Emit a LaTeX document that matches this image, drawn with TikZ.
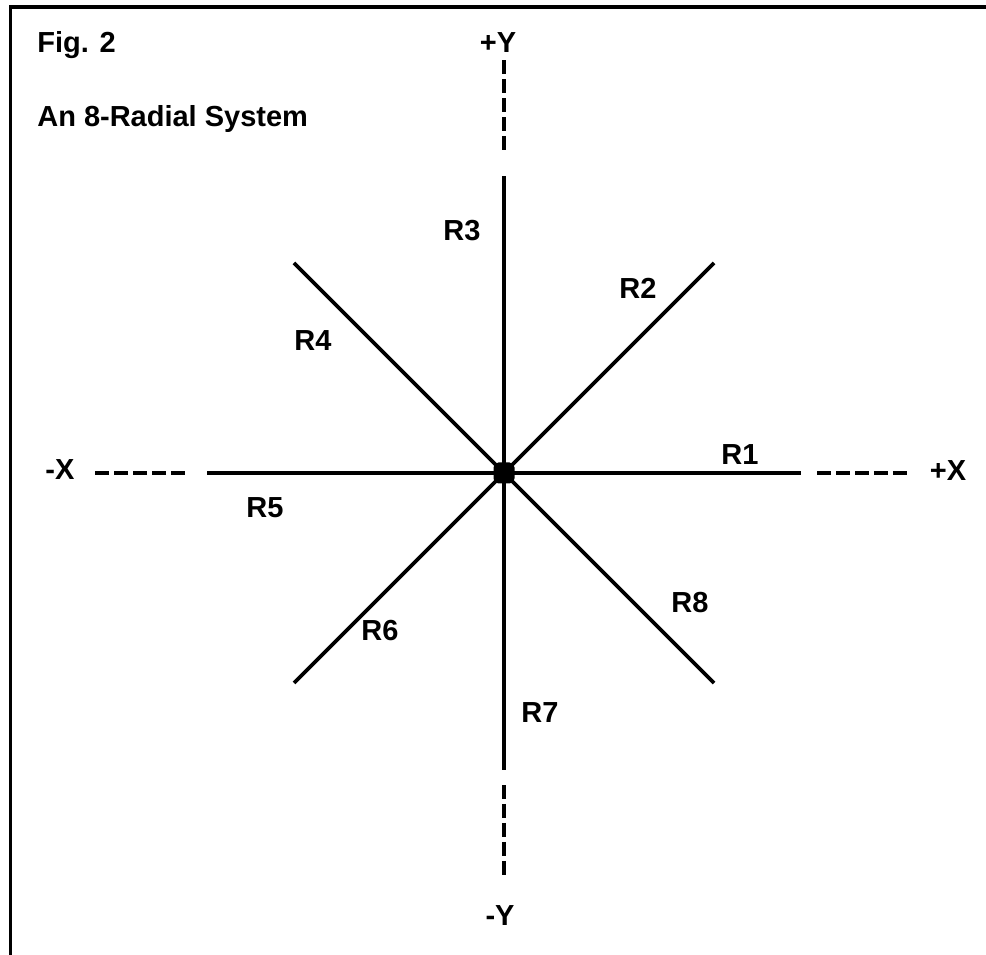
\documentclass[tikz,border=0pt]{standalone}
\usepackage{fontspec}
\setmainfont{Liberation Sans}
\usetikzlibrary{positioning}

\begin{document}
\begin{tikzpicture}[
  x=0.02cm, y=0.02cm,
  radial/.style={line width=2.1pt},
  axisdash/.style={line width=2.1pt, dash pattern=on 0.28cm off 0.1cm},
  lbl/.style={font=\bfseries\fontsize{16.5}{18}\selectfont, inner sep=0pt},
  head/.style={font=\bfseries\fontsize{16.5}{18}\selectfont, inner sep=0pt},
  hub/.style={rectangle, rounded corners=0.1cm, fill=black, minimum size=0.42cm, inner sep=0pt},
  frame/.style={line width=2.2pt}
]
  \useasboundingbox (-504,-482) rectangle (482,473);
  % frame
  \coordinate (ftr) at (482,466);
  \coordinate (ftl) at (-493.5,466);
  \coordinate (fbl) at (-493.5,-482);
  \draw[frame] (ftr) -- (ftl) -- (fbl);

  \node[head, anchor=base west] (fig) at (-467,420) {Fig. 2};
  \node[head, anchor=base west] (title) at (-467,346) {An 8-Radial System};

  % radials
  \node[hub] (o) at (0,0) {};
  \coordinate (e1) at (297,0);
  \coordinate (e2) at (210,210);
  \coordinate (e3) at (0,297);
  \coordinate (e4) at (-210,210);
  \coordinate (e5) at (-297,0);
  \coordinate (e6) at (-210,-210);
  \coordinate (e7) at (0,-297);
  \coordinate (e8) at (210,-210);
  \draw[radial] (o.center) -- (e1);
  \draw[radial] (o.center) -- (e2);
  \draw[radial] (o.center) -- (e3);
  \draw[radial] (o.center) -- (e4);
  \draw[radial] (o.center) -- (e5);
  \draw[radial] (o.center) -- (e6);
  \draw[radial] (o.center) -- (e7);
  \draw[radial] (o.center) -- (e8);

  % axis extensions
  \coordinate (px1) at (313,0);
  \coordinate (px2) at (404,0);
  \coordinate (mx1) at (-319,0);
  \coordinate (mx2) at (-411,0);
  \coordinate (py1) at (0,323);
  \coordinate (py2) at (0,413);
  \coordinate (my1) at (0,-312);
  \coordinate (my2) at (0,-404);
  \draw[axisdash] (px1) -- (px2);
  \draw[axisdash] (mx1) -- (mx2);
  \draw[axisdash] (py1) -- (py2);
  \draw[axisdash] (my1) -- (my2);

  \node[lbl] (xp) at (444,2) {+X};
  \node[lbl] (xm) at (-444,3) {-X};
  \node[lbl] (yp) at (-6,430) {+Y};
  \node[lbl] (ym) at (-4,-443) {-Y};

  \node[lbl] (r1) at (236,18) {R1};
  \node[lbl] (r2) at (134,185) {R2};
  \node[lbl] (r3) at (-42,242) {R3};
  \node[lbl] (r4) at (-191,132) {R4};
  \node[lbl] (r5) at (-239,-35) {R5};
  \node[lbl] (r6) at (-124,-158) {R6};
  \node[lbl] (r7) at (36,-240) {R7};
  \node[lbl] (r8) at (186,-130) {R8};
\end{tikzpicture}
\end{document}
